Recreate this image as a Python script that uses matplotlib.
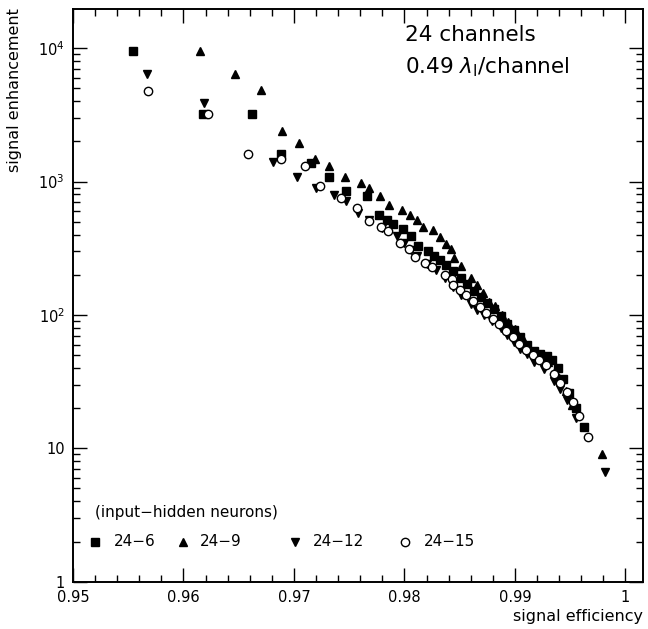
import numpy as np
import matplotlib
matplotlib.use("Agg")
import matplotlib.pyplot as plt
from matplotlib.ticker import FixedLocator, MultipleLocator, LogLocator, NullFormatter

# ==============================================================================
# DATA
# ==============================================================================
eff_6 = [0.9554, 0.9618, 0.9662, 0.9688, 0.9715, 0.9732, 0.9747, 0.9766, 0.9777,
         0.9784, 0.9790, 0.9799, 0.9806, 0.9812, 0.9821, 0.9827, 0.9832, 0.9838,
         0.9844, 0.9851, 0.9857, 0.9863, 0.9869, 0.9875, 0.9881, 0.9887, 0.9893,
         0.9899, 0.9905, 0.9911, 0.9917, 0.9923, 0.9929, 0.9934, 0.9939, 0.9944,
         0.9949, 0.9955, 0.9963]
enh_6 = [9570, 3230, 3230, 1620, 1380, 1090, 853, 782, 563,
         517, 480, 443, 392, 326, 299, 277, 259, 237,
         215, 189, 170, 152, 137, 122, 110, 98, 86,
         77, 68, 60, 54, 51, 49, 46, 40, 33,
         26, 20, 14.4]

eff_9 = [0.9615, 0.9647, 0.9670, 0.9689, 0.9705, 0.9719, 0.9732, 0.9746, 0.9761,
         0.9768, 0.9778, 0.9786, 0.9798, 0.9805, 0.9811, 0.9817, 0.9826, 0.9832,
         0.9838, 0.9842, 0.9845, 0.9851, 0.9860, 0.9866, 0.9871, 0.9877, 0.9882,
         0.9888, 0.9894, 0.9900, 0.9906, 0.9912, 0.9918, 0.9924, 0.9930, 0.9936,
         0.9940, 0.9946, 0.9952, 0.9979]
enh_9 = [9570, 6400, 4820, 2400, 1940, 1480, 1300, 1080, 975,
         894, 773, 670, 614, 557, 511, 456, 435, 383,
         340, 312, 267, 231, 189, 168, 145, 126, 116,
         100, 88, 78, 68, 59, 52, 48, 44, 38,
         33.5, 27, 21, 9.1]

eff_12 = [0.9567, 0.9619, 0.9681, 0.9703, 0.9720, 0.9736, 0.9747, 0.9758, 0.9768,
          0.9780, 0.9793, 0.9800, 0.9806, 0.9811, 0.9820, 0.9829, 0.9837, 0.9844,
          0.9851, 0.9860, 0.9866, 0.9872, 0.9879, 0.9887, 0.9893, 0.9899, 0.9905,
          0.9911, 0.9917, 0.9926, 0.9935, 0.9941, 0.9947, 0.9955, 0.9982]
enh_12 = [6440, 3880, 1400, 1090, 894, 787, 710, 580, 517,
          450, 392, 345, 305, 277, 240, 219, 189, 163,
          141, 121, 108, 100, 90, 80, 71, 63, 56,
          51, 44, 39, 32, 28, 23, 17, 6.7]

eff_15 = [0.9568, 0.9622, 0.9658, 0.9688, 0.9710, 0.9724, 0.9743, 0.9757, 0.9768,
          0.9779, 0.9785, 0.9796, 0.9804, 0.9810, 0.9819, 0.9825, 0.9837, 0.9843,
          0.9844, 0.9850, 0.9856, 0.9862, 0.9868, 0.9874, 0.9880, 0.9886, 0.9892,
          0.9898, 0.9904, 0.9910, 0.9916, 0.9922, 0.9928, 0.9935, 0.9941, 0.9947,
          0.9953, 0.9958, 0.9966]
enh_15 = [4800, 3230, 1620, 1480, 1300, 930, 752, 632, 502,
          456, 428, 349, 312, 270, 247, 228, 200, 185,
          168, 155, 140, 127, 115, 104, 94, 85, 76,
          68, 61, 55, 50, 46, 42, 36, 31, 26.6,
          22.4, 17.6, 12.1]

x_ticks  = [0.95, 0.96, 0.97, 0.98, 0.99, 1.0]
x_labels = ["0.95", "0.96", "0.97", "0.98", "0.99", "1"]
y_ticks  = [1, 10, 100, 1000, 10000]
y_labels = ["1", "10", "$10^{2}$", "$10^{3}$", "$10^{4}$"]
names    = ["24\u22126", "24\u22129", "24\u221212", "24\u221215"]

# ==============================================================================
# FIGURE
# ==============================================================================
plt.rcParams['font.family'] = ['DejaVu Sans']
plt.rcParams['mathtext.fontset'] = 'dejavusans'

fig = plt.figure(figsize=(6.48, 6.29), dpi=100)
ax = fig.add_axes([0.1127, 0.0752, 0.8796, 0.9097])

series = [(eff_6, enh_6, dict(marker='s', ms=5.2, color='black', mfc='black')),
          (eff_9, enh_9, dict(marker='^', ms=6, color='black', mfc='black')),
          (eff_12, enh_12, dict(marker='v', ms=6, color='black', mfc='black')),
          (eff_15, enh_15, dict(marker='o', ms=6, color='black', mfc='white', mew=1))]

for x, y, st in series:
    ax.plot(x, y, linestyle='none', **st)

ax.set_yscale('log')
ax.set_xlim(0.95, 1.0016)
ax.set_ylim(1, 1.95e4)

ax.xaxis.set_major_locator(FixedLocator(x_ticks))
ax.set_xticklabels(x_labels)
ax.xaxis.set_minor_locator(MultipleLocator(0.002))
ax.yaxis.set_major_locator(FixedLocator(y_ticks))
ax.set_yticklabels(y_labels)
ax.yaxis.set_minor_locator(LogLocator(base=10, subs=np.arange(2, 10)))
ax.yaxis.set_minor_formatter(NullFormatter())

ax.tick_params(which='both', direction='in', top=True, right=True,
               width=1, labelsize=10.5)
ax.tick_params(which='major', length=10, pad=6)
ax.tick_params(which='minor', length=5)
for s in ax.spines.values():
    s.set_linewidth(1.4)

fig.text(0.992, 1 - 616 / 629, "signal efficiency", ha='right', va='center',
         fontsize=11.5)
fig.text(15 / 648, 1 - 8 / 629, "signal enhancement", ha='center', va='top',
         rotation=90, fontsize=11.5)

# annotations
ax.text(0.5825, 0.955, "24 channels", transform=ax.transAxes,
        ha='left', va='center', fontsize=15.5)
ax.text(0.5825, 0.899, r"0.49 $\lambda_{\rm I}$/channel", transform=ax.transAxes,
        ha='left', va='center', fontsize=15.5)

# hand-placed key, as in the original
ax.text(0.038, 0.121, "(input\u2212hidden neurons)", transform=ax.transAxes,
        ha='left', va='center', fontsize=11)
key_mx = [0.0386, 0.193, 0.390, 0.583]
key_tx = [0.072, 0.223, 0.421, 0.616]
for (x, y, st), mx, tx, nm in zip(series, key_mx, key_tx, names):
    ax.plot([mx], [0.07], transform=ax.transAxes, linestyle='none',
            clip_on=False, **st)
    ax.text(tx, 0.07, nm, transform=ax.transAxes, ha='left', va='center',
            fontsize=11)

fig.savefig("out.png", dpi=100)
